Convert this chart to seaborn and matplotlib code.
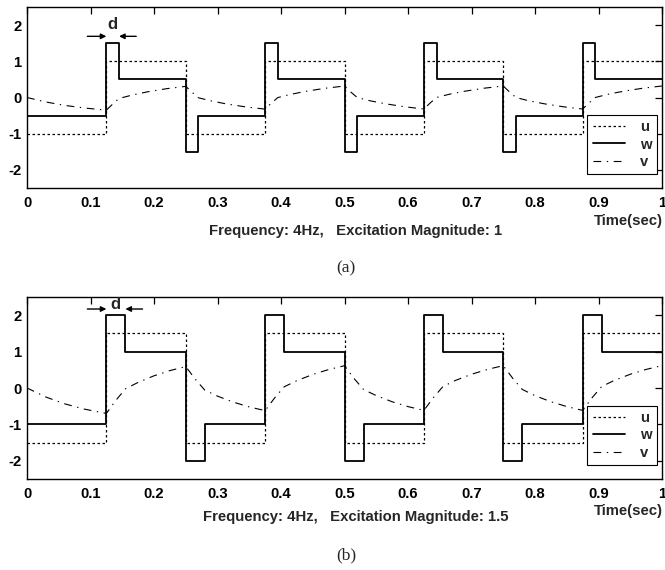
import matplotlib
matplotlib.use("Agg")
import matplotlib.pyplot as plt
import seaborn as sns
import numpy as np
from matplotlib.lines import Line2D

sns.set_style("white")
plt.rcParams['font.family'] = ['Liberation Sans', 'DejaVu Sans']

# ---------------- data ----------------
u_t = [0, 0.125, 0.25, 0.375, 0.5, 0.625, 0.75, 0.875, 1.0]
u_a = [-1, 1, -1, 1, -1, 1, -1, 1, 1]
u_b = [-1.5, 1.5, -1.5, 1.5, -1.5, 1.5, -1.5, 1.5, 1.5]

w_t_a = [0, 0.125, 0.145, 0.25, 0.27, 0.375, 0.395, 0.5, 0.52, 0.625, 0.645, 0.75, 0.77, 0.875, 0.895, 1.0]
w_a = [-0.5, 1.5, 0.5, -1.5, -0.5, 1.5, 0.5, -1.5, -0.5, 1.5, 0.5, -1.5, -0.5, 1.5, 0.5, 0.5]

w_t_b = [0, 0.125, 0.155, 0.25, 0.28, 0.375, 0.405, 0.5, 0.53, 0.625, 0.655, 0.75, 0.78, 0.875, 0.905, 1.0]
w_b = [-1, 2, 1, -2, -1, 2, 1, -2, -1, 2, 1, -2, -1, 2, 1, 1]

v_t_a = [0, 0.03, 0.06, 0.09, 0.125,
         0.135, 0.145, 0.165, 0.19, 0.22, 0.25,
         0.26, 0.27, 0.29, 0.315, 0.345, 0.375,
         0.385, 0.395, 0.415, 0.44, 0.47, 0.5,
         0.51, 0.52, 0.54, 0.565, 0.595, 0.625,
         0.635, 0.645, 0.665, 0.69, 0.72, 0.75,
         0.76, 0.77, 0.79, 0.815, 0.845, 0.875,
         0.885, 0.895, 0.915, 0.94, 0.97, 1.0]
v_a = [0, -0.125, -0.219, -0.289, -0.35,
       -0.18, -0.027, 0.065, 0.158, 0.244, 0.308,
       0.142, -0.008, -0.094, -0.181, -0.261, -0.321,
       -0.153, -0.002, 0.086, 0.174, 0.256, 0.317,
       0.15, 0.0, -0.09, -0.175, -0.257, -0.318,
       -0.15, 0.0, 0.09, 0.175, 0.257, 0.318,
       0.15, 0.0, -0.09, -0.175, -0.257, -0.318,
       -0.15, 0.0, 0.09, 0.175, 0.257, 0.318]

v_t_b = [0, 0.03, 0.06, 0.09, 0.125,
         0.14, 0.155, 0.175, 0.2, 0.225, 0.25,
         0.265, 0.28, 0.3, 0.325, 0.35, 0.375,
         0.39, 0.405, 0.425, 0.45, 0.475, 0.5,
         0.515, 0.53, 0.55, 0.575, 0.6, 0.625,
         0.64, 0.655, 0.675, 0.7, 0.725, 0.75,
         0.765, 0.78, 0.8, 0.825, 0.85, 0.875,
         0.89, 0.905, 0.925, 0.95, 0.975, 1.0]
v_b = [0, -0.25, -0.438, -0.579, -0.699,
       -0.337, -0.024, 0.155, 0.335, 0.478, 0.589,
       0.242, -0.058, -0.223, -0.389, -0.52, -0.622,
       -0.271, 0.033, 0.202, 0.372, 0.507, 0.612,
       0.262, -0.041, -0.209, -0.378, -0.511, -0.615,
       -0.265, 0.04, 0.21, 0.377, 0.51, 0.615,
       0.265, -0.04, -0.21, -0.377, -0.51, -0.615,
       -0.265, 0.04, 0.21, 0.377, 0.51, 0.615]

x_ticks = [0, 0.1, 0.2, 0.3, 0.4, 0.5, 0.6, 0.7, 0.8, 0.9, 1.0]
x_labels = ["0", "0.1", "0.2", "0.3", "0.4", "0.5", "0.6", "0.7", "0.8", "0.9", "1"]
y_ticks = [-2, -1, 0, 1, 2]
y_labels = ["-2", "-1", "0", "1", "2"]

panels = [
    dict(u=u_a, wt=w_t_a, w=w_a, vt=v_t_a, v=v_a, mag="1", tag="(a)",
         d_spike=(0.125, 0.145), d_y=1.69, d_label=(0.135, 2.02)),
    dict(u=u_b, wt=w_t_b, w=w_b, vt=v_t_b, v=v_b, mag="1.5", tag="(b)",
         d_spike=(0.125, 0.155), d_y=2.17, d_label=(0.139, 2.30)),
]

# ---------------- figure ----------------
W, H = 665, 570
fig = plt.figure(figsize=(W / 100, H / 100), dpi=100)
fig.patch.set_facecolor("white")

axes_px = [(27, 7, 662, 188), (27, 297, 662, 479)]  # left, top, right, bottom
text_offsets = [dict(time=33, freq=43, tag=80), dict(time=32, freq=38, tag=76)]

u_style = dict(color="black", lw=0.9, linestyle=(0, (2, 2)))
w_style = dict(color="black", lw=1.3, linestyle="-")
v_style = dict(color="black", lw=0.8, linestyle=(0, (7, 5, 1.2, 5)))

FS = 10.7

for p, (l, t, r, b), off in zip(panels, axes_px, text_offsets):
    ax = fig.add_axes([l / W, 1 - b / H, (r - l) / W, (b - t) / H])
    sns.lineplot(x=u_t, y=p["u"], ax=ax, estimator=None, sort=False,
                 drawstyle="steps-post", **u_style)
    sns.lineplot(x=p["wt"], y=p["w"], ax=ax, estimator=None, sort=False,
                 drawstyle="steps-post", **w_style)
    sns.lineplot(x=p["vt"], y=p["v"], ax=ax, estimator=None, sort=False, **v_style)

    ax.set_xlim(0, 1)
    ax.set_ylim(-2.5, 2.5)
    ax.set_xticks(x_ticks)
    ax.set_xticklabels(x_labels)
    ax.set_yticks(y_ticks)
    ax.set_yticklabels(y_labels)
    ax.tick_params(direction="in", length=5, width=0.9, top=True, right=True,
                   labelsize=FS, pad=6, colors="black")
    ax.tick_params(axis="y", pad=4)
    for lab in ax.get_xticklabels() + ax.get_yticklabels():
        lab.set_fontweight("bold")
    for s in ax.spines.values():
        s.set_color("black")
        s.set_linewidth(1.0)
    ax.set_xlabel("")
    ax.set_ylabel("")

    # d annotation
    s0, s1 = p["d_spike"]
    ax.annotate("", xy=(s0, p["d_y"]), xytext=(s0 - 0.03, p["d_y"]),
                arrowprops=dict(arrowstyle="-|>", color="black", lw=1.0,
                                mutation_scale=8, shrinkA=0, shrinkB=0))
    ax.annotate("", xy=(s1, p["d_y"]), xytext=(s1 + 0.027, p["d_y"]),
                arrowprops=dict(arrowstyle="-|>", color="black", lw=1.0,
                                mutation_scale=8, shrinkA=0, shrinkB=0))
    ax.text(p["d_label"][0], p["d_label"][1], "d", ha="center", va="center",
            fontsize=12, fontweight="bold")

    handles = [Line2D([], [], **u_style), Line2D([], [], **w_style),
               Line2D([], [], **v_style)]
    leg = ax.legend(handles, ["u", "w", "v"], loc="lower right",
                    bbox_to_anchor=(0.992, 0.075), fancybox=False,
                    edgecolor="black", framealpha=1, handlelength=2.2,
                    borderpad=0.35, labelspacing=0.25, handletextpad=1.0,
                    borderaxespad=0, prop=dict(weight="bold", size=FS))
    leg.get_frame().set_linewidth(0.8)

    fig.text(663 / W, 1 - (b + off["time"]) / H, "Time(sec)", ha="right",
             va="center", fontsize=FS, fontweight="bold")
    fig.text(356 / W, 1 - (b + off["freq"]) / H,
             "Frequency: 4Hz,   Excitation Magnitude: " + p["mag"],
             ha="center", va="center", fontsize=FS, fontweight="bold")
    fig.text(346 / W, 1 - (b + off["tag"]) / H, p["tag"], ha="center",
             va="center", fontsize=12.5, family=["Liberation Serif", "DejaVu Serif"])

fig.savefig("out.png", dpi=100, facecolor="white")
